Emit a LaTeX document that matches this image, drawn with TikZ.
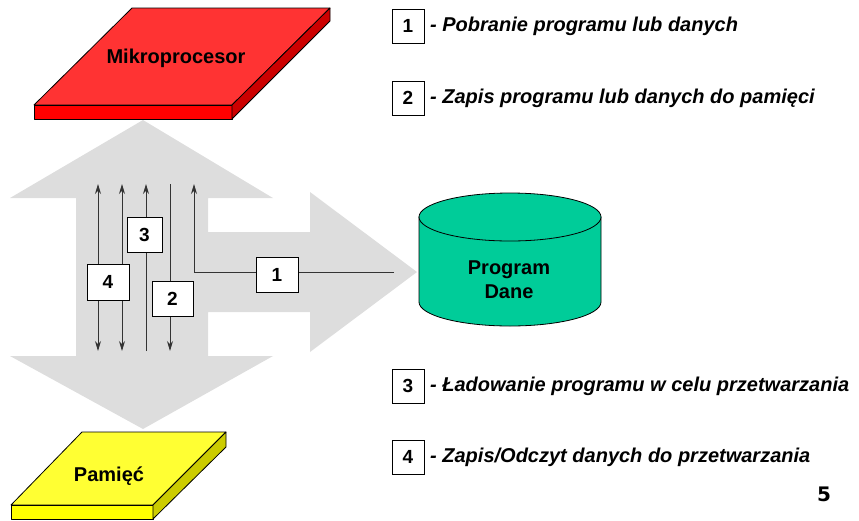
\documentclass[tikz,border=0pt]{standalone}
\usepackage{fontspec}
\setmainfont{Liberation Sans}
\newfontfamily\pagenumfont{DejaVu Sans}
\usetikzlibrary{arrows.meta}
\definecolor{bandgray}{HTML}{DDDDDD}
\definecolor{redtop}{HTML}{FF3333}
\definecolor{redfront}{HTML}{FF0000}
\definecolor{redside}{HTML}{CC0000}
\definecolor{yeltop}{HTML}{FFFF33}
\definecolor{yelfront}{HTML}{FFFF00}
\definecolor{yelside}{HTML}{CCCC00}
\definecolor{cylgreen}{HTML}{00CC99}
\tikzset{
  numbox/.style={draw=black, fill=white, line width=0.8pt, minimum width=32pt, minimum height=34pt, inner sep=0pt, font=\fontsize{19}{22}\selectfont\bfseries},
  legtext/.style={anchor=west, inner sep=0pt, font=\fontsize{20}{23}\selectfont\bfseries\itshape},
  slabtext/.style={inner sep=0pt, font=\fontsize{20}{24}\selectfont\bfseries},
  wire/.style={draw=black!80, line width=0.9pt},
  tip/.style={-{Stealth[length=10pt,width=6pt]}},
  dtip/.style={{Stealth[length=10pt,width=6pt]}-{Stealth[length=10pt,width=6pt]}},
  edge3d/.style={draw=black, line width=0.8pt, line join=round}
}
\begin{document}
\begin{tikzpicture}[x=1pt,y=-1pt]
\useasboundingbox (0,0) rectangle (859,520);
% gray double arrow + right arrow
\fill[bandgray] (143,120) -- (273,198) -- (208,198) -- (208,232) -- (310,232) -- (310,192) -- (417,272)
  -- (310,352) -- (310,312) -- (208,312) -- (208,356) -- (273,356) -- (143,429) -- (10,356) -- (76,356)
  -- (76,198) -- (10,198) -- cycle;
% red slab
\filldraw[edge3d, fill=redtop] (132,8) -- (330,8) -- (232,105) -- (34,105) -- cycle;
\filldraw[edge3d, fill=redfront] (34,105) -- (232,105) -- (232,119) -- (34,119) -- cycle;
\filldraw[edge3d, fill=redside] (330,8) -- (330,21) -- (232,119) -- (232,105) -- cycle;
\node[slabtext] (mp) at (176,58) {Mikroprocesor};
% yellow slab
\filldraw[edge3d, fill=yeltop] (82,432) -- (226,432) -- (153,505) -- (11,505) -- cycle;
\filldraw[edge3d, fill=yelfront] (11,505) -- (153,505) -- (153,519) -- (11,519) -- cycle;
\filldraw[edge3d, fill=yelside] (226,432) -- (226,447) -- (153,519) -- (153,505) -- cycle;
\node[slabtext] (pam) at (109,476) {Pamięć};
% cylinder
\filldraw[edge3d, fill=cylgreen] (419,217) -- (419,302) arc[start angle=180, end angle=0, x radius=91, y radius=24] -- (601,217) -- cycle;
\filldraw[edge3d, fill=cylgreen] (510,217) ellipse[x radius=91, y radius=24];
\node[slabtext, align=center] (db) at (509,280) {Program\\Dane};
% wire end coordinates
\coordinate (a4t) at (98,184);  \coordinate (a4b) at (98,351);
\coordinate (b4t) at (122,184); \coordinate (b4b) at (122,351);
\coordinate (c3t) at (146,184); \coordinate (c3b) at (146,351);
\coordinate (d2t) at (170,184); \coordinate (d2b) at (170,351);
\coordinate (e1t) at (194,184); \coordinate (e1c) at (194,272); \coordinate (e1r) at (394,272);
% wires
\draw[wire, dtip] (a4b) -- (a4t);
\draw[wire, dtip] (b4b) -- (b4t);
\draw[wire, tip] (c3b) -- (c3t);
\draw[wire, tip] (d2t) -- (d2b);
\draw[wire, tip] (e1r) -- (e1c) -- (e1t);
% boxes on wires
\node[numbox, minimum width=42pt, minimum height=36pt] (w4) at (108,282) {4};
\node[numbox, minimum width=35pt, minimum height=35pt] (w3) at (144.5,234.5) {3};
\node[numbox, minimum width=41pt, minimum height=35pt] (w2) at (172.5,298.5) {2};
\node[numbox, minimum width=42pt, minimum height=35pt] (w1) at (277,274.5) {1};
% legend
\node[numbox] (l1) at (408,26) {1};
\node[legtext] (t1) at (430,26) {- Pobranie programu lub danych};
\node[numbox] (l2) at (408,98) {2};
\node[legtext] (t2) at (430,98) {- Zapis programu lub danych do pamięci};
\node[numbox] (l3) at (408,386) {3};
\node[legtext] (t3) at (430,386) {- Ładowanie programu w celu przetwarzania};
\node[numbox] (l4) at (408,457) {4};
\node[legtext] (t4) at (430,457) {- Zapis/Odczyt danych do przetwarzania};
\node[inner sep=0pt, font=\pagenumfont\fontsize{20}{24}\selectfont\bfseries] (pg) at (824,494) {5};
\end{tikzpicture}
\end{document}
